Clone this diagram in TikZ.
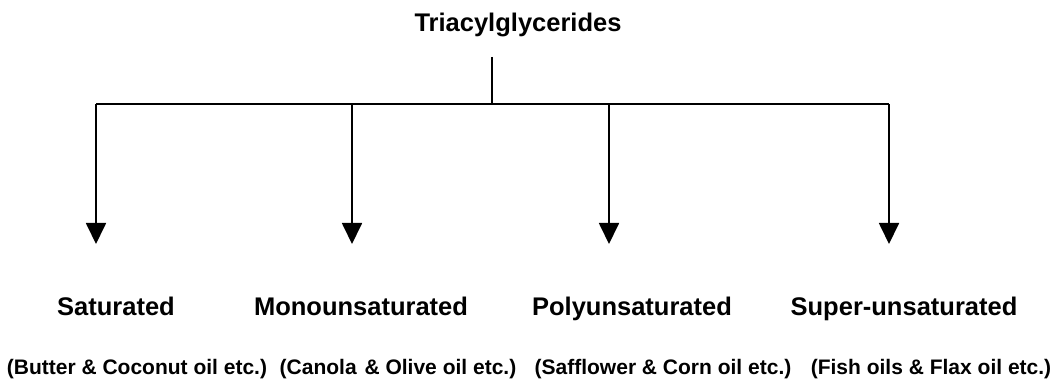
\documentclass[tikz,border=0pt]{standalone}
\usepackage{fontspec}
\setmainfont{Liberation Sans}
\usetikzlibrary{arrows.meta}
\tikzset{
  big/.style={font=\fontsize{25.5}{30}\selectfont\bfseries, inner sep=0pt, anchor=base},
  small/.style={font=\fontsize{21}{25}\selectfont\bfseries, inner sep=0pt, anchor=base},
  conn/.style={line width=1.8pt, line join=miter},
  arr/.style={conn, -{Triangle[width=20pt,length=21pt]}},
}
\begin{document}
\begin{tikzpicture}[x=1pt,y=1pt]
\useasboundingbox (0,0) rectangle (1058,378);
\node[big] (title) at (518,346) {Triacylglycerides};
\node[big] (sat) at (116,63) {Saturated};
\node[big] (mono) at (361,63) {Monounsaturated};
\node[big] (poly) at (632,63) {Polyunsaturated};
\node[big] (super) at (904,63) {Super-unsaturated};
\node[small] (butter) at (137,4) {(Butter \& Coconut oil etc.)};
\node[small] (canola) at (398,4) {(Canola\hspace{2pt} \& Olive oil etc.)};
\node[small] (saff) at (663,4) {(Safflower \& Corn oil etc.)};
\node[small] (fish) at (931,4) {(Fish oils \& Flax oil etc.)};
\coordinate (top) at (492,321);
\coordinate (hub) at (492,274);
\coordinate (b1) at (96,274);
\coordinate (b2) at (352,274);
\coordinate (b3) at (609,274);
\coordinate (b4) at (889,274);
\coordinate (t1) at (96,134);
\coordinate (t2) at (352,134);
\coordinate (t3) at (609,134);
\coordinate (t4) at (889,134);
\draw[conn] (top) -- (hub);
\draw[conn] (b1) -- (b4);
\draw[arr] (b1) -- (t1);
\draw[arr] (b2) -- (t2);
\draw[arr] (b3) -- (t3);
\draw[arr] (b4) -- (t4);
\end{tikzpicture}
\end{document}
